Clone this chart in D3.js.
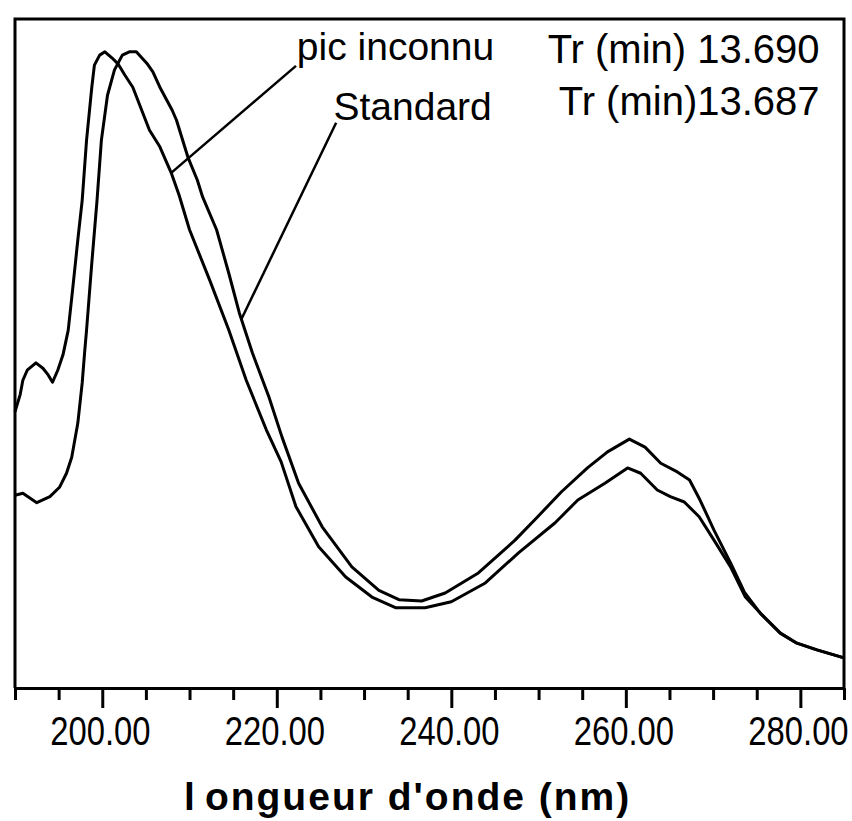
<!DOCTYPE html>
<html>
<head>
<meta charset="utf-8">
<script src="https://cdn.jsdelivr.net/npm/d3@7"></script>
<style>
  html, body { margin: 0; padding: 0; background: #fff; }
  svg { display: block; }
</style>
</head>
<body>
<svg id="chart" width="852" height="821"></svg>
<script>
// ---------------- data ----------------
const inconnuNm  = [190.0,190.6,190.9,191.4,192.4,193.2,193.8,194.3,194.9,195.5,196.1,196.6,197.2,197.7,198.2,198.8,199.1,199.7,200.3,201.1,201.8,202.6,203.5,204.3,205.4,206.6,207.9,208.8,210.0,212.3,214.5,216.5,218.8,220.5,222.2,224.8,227.9,230.9,233.6,237.0,240.0,243.9,247.7,251.9,254.5,257.6,260.2,261.7,263.6,265.1,266.7,268.4,270.1,272.0,273.7,275.4,277.7,279.6,281.9,285.0];
const inconnuAbs = [41.3,43.9,46.0,47.5,48.6,47.8,46.8,45.7,47.5,49.8,53.5,59.5,67.0,72.9,81.9,89.8,93.1,94.6,95.1,94.2,93.3,91.6,89.8,87.1,83.4,80.9,77.0,73.7,68.5,61.0,53.5,46.0,38.6,33.8,27.1,21.1,16.6,13.6,12.0,12.0,12.9,15.7,20.2,24.7,28.1,30.6,32.9,32.1,29.6,28.6,27.8,25.6,22.1,18.1,13.6,11.2,8.2,6.7,5.7,4.5];

const standardNm  = [190.0,190.9,191.7,192.5,194.0,195.1,195.9,196.5,197.2,197.7,198.0,198.2,198.8,199.4,199.9,200.6,201.4,202.3,203.1,203.9,205.1,205.8,206.6,208.0,208.5,209.8,210.9,211.5,213.1,214.5,215.7,217.2,219.1,220.6,222.5,225.2,228.6,231.7,234.0,236.6,239.3,243.1,247.3,249.9,252.6,255.6,257.9,260.4,262.2,264.0,265.9,267.3,268.5,270.1,272.0,273.6,275.4,277.7,279.6,281.9,285.0];
const standardAbs = [28.8,29.1,28.4,27.7,28.6,30.0,32.1,34.5,39.6,45.6,50.5,53.5,63.5,72.9,81.9,88.6,92.4,94.6,95.1,95.1,93.4,92.1,89.8,86.4,84.9,79.4,75.9,73.4,68.5,62.0,56.1,50.1,43.5,37.5,30.6,24.1,18.1,14.6,13.2,13.0,14.2,17.2,22.1,25.6,29.3,32.9,35.3,37.2,36.0,33.6,32.3,31.1,28.1,23.6,18.7,14.3,11.2,8.2,6.7,5.7,4.5];

const majorTicks = [200, 220, 240, 260, 280];
const minorTicks = [190, 195, 205, 210, 215, 225, 230, 235, 245, 250, 255, 265, 270, 275, 285];

const xTitle = "longueur d'onde (nm)";
const seriesLabels = ["pic inconnu", "Standard"];
const trLabels = ["Tr (min) 13.690", "Tr (min)13.687"];

(function () {
  const svg = d3.select("#chart");
  const mLeft = 15, mRight = 844, mTop = 19, mBottom = 688;

  const x = d3.scaleLinear().domain([190, 285]).range([mLeft, mRight]);
  const y = d3.scaleLinear().domain([0, 100]).range([mBottom, mTop]);

  const ink = "#000";
  const labelFont = "'Liberation Sans', Arial, sans-serif";

  // frame (left, top, right)
  svg.append("path")
    .attr("d", `M${x(190)},${y(0)} V${y(100)} H${x(285)} V${y(0)}`)
    .attr("fill", "none").attr("stroke", ink).attr("stroke-width", 3);

  // minor ticks
  const minorAxis = d3.axisBottom(x).tickValues(minorTicks).tickSize(12).tickSizeOuter(0).tickFormat("");
  const gMinor = svg.append("g").attr("transform", `translate(0,${mBottom})`).call(minorAxis);
  gMinor.select(".domain").attr("stroke", ink).attr("stroke-width", 3);
  gMinor.selectAll(".tick line").attr("stroke", ink).attr("stroke-width", 3);

  // major ticks with labels (condensed look)
  const majorAxis = d3.axisBottom(x).tickValues(majorTicks).tickSize(20).tickSizeOuter(0).tickFormat(d3.format(".2f"));
  const gMajor = svg.append("g").attr("transform", `translate(0,${mBottom})`).call(majorAxis);
  gMajor.select(".domain").remove();
  gMajor.selectAll(".tick line").attr("stroke", ink).attr("stroke-width", 3);
  gMajor.selectAll(".tick text")
    .attr("fill", ink)
    .attr("x", -3)
    .attr("y", 57).attr("dy", 0)
    .attr("transform", "scale(0.8,1)")
    .style("font-family", labelFont)
    .style("font-size", "41px");

  // axis title
  const title = svg.append("text")
    .attr("x", x(235)).attr("y", 810)
    .attr("text-anchor", "middle")
    .style("font-family", labelFont)
    .style("font-weight", "bold")
    .style("font-size", "39px")
    .style("letter-spacing", "2px")
    .attr("fill", ink);
  title.append("tspan").text(xTitle.slice(0, 1));
  title.append("tspan").attr("dx", 8).text(xTitle.slice(1));

  // curves
  const line = d3.line().x(d => x(d[0])).y(d => y(d[1])).curve(d3.curveLinear);
  const inconnu = inconnuNm.map((n, i) => [n, inconnuAbs[i]]);
  const standard = standardNm.map((n, i) => [n, standardAbs[i]]);

  [inconnu, standard].forEach(s => {
    svg.append("path").datum(s)
      .attr("d", line)
      .attr("fill", "none")
      .attr("stroke", ink)
      .attr("stroke-width", 3)
      .attr("stroke-linejoin", "round");
  });

  // annotations: label anchor (nm, value) and leader target on curve
  const ann = [
    { text: seriesLabels[0], lx: 222.3, ly: 93.8, sx: 222.2, sy: 93.0, tx: 207.9, ty: 77.0 },
    { text: seriesLabels[1], lx: 226.5, ly: 84.9, sx: 226.8, sy: 84.5, tx: 215.9, ty: 55.0 }
  ];
  ann.forEach(a => {
    svg.append("line")
      .attr("x1", x(a.sx)).attr("y1", y(a.sy))
      .attr("x2", x(a.tx)).attr("y2", y(a.ty))
      .attr("stroke", ink).attr("stroke-width", 2.5);
    svg.append("text")
      .attr("x", x(a.lx)).attr("y", y(a.ly))
      .style("font-family", labelFont)
      .style("font-size", "39px")
      .attr("fill", ink)
      .text(a.text);
  });

  // retention-time labels (right aligned)
  [[trLabels[0], 93.4], [trLabels[1], 85.7]].forEach(([t, v]) => {
    svg.append("text")
      .attr("x", x(282.2)).attr("y", y(v))
      .attr("text-anchor", "end")
      .style("font-family", labelFont)
      .style("font-size", "40px")
      .attr("fill", ink)
      .text(t);
  });
})();
</script>
</body>
</html>
